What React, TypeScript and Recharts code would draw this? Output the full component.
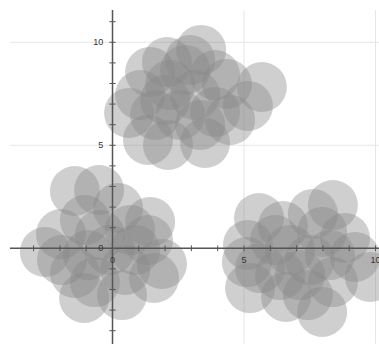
import { ScatterChart, Scatter, XAxis, YAxis, ReferenceLine } from 'recharts';

// three blobs of points
const topX = [3.37, 2.07, 1.43, 2.76, 0.63, 1.35, 2.11, 3.52, 4.35, 5.68, 5.15, 3.9, 3.14, 2.0, 3.9, 2.57, 1.62, 4.47, 3.33, 2.19, 2.95, 1.05];
const topY = [9.63, 9.04, 8.56, 8.66, 6.57, 5.26, 5.02, 5.11, 7.98, 7.83, 6.91, 6.62, 7.44, 7.2, 8.41, 6.47, 6.47, 6.23, 5.99, 7.93, 9.14, 7.44];

const leftX = [-1.43, -0.51, 0.21, 1.43, -1.96, -2.57, 1.35, -1.05, -1.92, -1.43, -1.08, 0.36, 1.58, 1.88, -0.67, -0.1, 0.86, -0.48, 0.48, 0.67, -0.93];
const leftY = [2.78, 2.83, 1.96, 1.28, 0.69, -0.18, 0.4, 1.37, -0.57, -1.2, -2.41, -2.27, -1.44, -0.76, -1.64, -0.08, -0.08, 0.65, -1.05, 0.89, -0.33];

const rightX = [8.38, 7.62, 5.57, 6.48, 5.15, 7.97, 9.22, 8.84, 5.11, 5.23, 6.6, 7.97, 9.79, 7.43, 8.38, 5.61, 6.75, 7.51, 6.18, 7.13, 8.27, 6.37];
const rightY = [2.1, 1.67, 1.47, 1.08, 0.16, 0.79, -0.42, 0.5, -0.67, -1.93, -2.36, -3.09, -1.39, -2.27, -1.64, -0.96, -0.08, -0.57, 0.4, -1.3, -0.33, -1.3];

const xTicks = [-3, -2, -1, 1, 2, 3, 4, 5, 6, 7, 8, 9, 10];
const yTicks = [-4, -3, -2, -1, 1, 2, 3, 4, 5, 6, 7, 8, 9, 10, 11];
const xLabels = [0, 5, 10];
const yLabels = [0, 5, 10];
const gridX = [5, 10];
const gridY = [5, 10];

const points = [
  ...topX.map((x, i) => ({ x, y: topY[i] })),
  ...leftX.map((x, i) => ({ x, y: leftY[i] })),
  ...rightX.map((x, i) => ({ x, y: rightY[i] })),
];

const X_MIN = -3.9;
const X_MAX = 10.13;
const Y_MIN = -4.64;
const Y_MAX = 11.57;

const labelStyle = { fontFamily: 'Liberation Sans, Arial, sans-serif', fontSize: 9, fill: '#333' };

const Bubble = (props: any) => (
  <circle cx={props.cx} cy={props.cy} r={25} fill="#888" fillOpacity={0.4} />
);

export default function App() {
  return (
    <div style={{ position: 'absolute', left: 0, top: 0 }}>
      <ScatterChart width={379} height={344} margin={{ top: 0, right: 0, bottom: 0, left: 0 }}>
        <XAxis type="number" dataKey="x" hide domain={[-4.278, 10.133]} allowDataOverflow scale="linear" />
        <YAxis type="number" dataKey="y" hide domain={[-4.646, 12.053]} allowDataOverflow scale="linear" />

        {gridY.map((v) => (
          <ReferenceLine key={'gy' + v} segment={[{ x: X_MIN, y: v }, { x: X_MAX, y: v }]} stroke="#e6e6e6" ifOverflow="visible" zIndex={-100} />
        ))}
        {gridX.map((v) => (
          <ReferenceLine key={'gx' + v} segment={[{ x: v, y: Y_MIN }, { x: v, y: Y_MAX }]} stroke="#e6e6e6" ifOverflow="visible" zIndex={-100} />
        ))}

        <Scatter data={points} shape={Bubble} isAnimationActive={false} />

        <ReferenceLine segment={[{ x: X_MIN, y: 0 }, { x: X_MAX, y: 0 }]} stroke="#555" strokeWidth={1.5} ifOverflow="visible" zIndex={700} />
        <ReferenceLine segment={[{ x: 0, y: Y_MIN }, { x: 0, y: Y_MAX }]} stroke="#555" strokeWidth={1.5} ifOverflow="visible" zIndex={700} />

        {xTicks.map((v) => (
          <ReferenceLine key={'tx' + v} segment={[{ x: v, y: -0.14 }, { x: v, y: 0.14 }]} stroke="#555" ifOverflow="visible" zIndex={700} />
        ))}
        {yTicks.map((v) => (
          <ReferenceLine key={'ty' + v} segment={[{ x: -0.12, y: v }, { x: 0.12, y: v }]} stroke="#555" ifOverflow="visible" zIndex={700} />
        ))}

        {xLabels.map((v) => (
          <ReferenceLine
            key={'lx' + v}
            segment={[{ x: v, y: -0.14 }, { x: v, y: 0.14 }]}
            stroke="none"
            ifOverflow="visible"
            zIndex={700}
            label={{ value: String(v), position: 'bottom', offset: 5, style: labelStyle }}
          />
        ))}
        {yLabels.map((v) => (
          <ReferenceLine
            key={'ly' + v}
            segment={[{ x: -0.12, y: v }, { x: 0.12, y: v }]}
            stroke="none"
            ifOverflow="visible"
            zIndex={700}
            label={{ value: String(v), position: 'left', offset: 6, style: labelStyle }}
          />
        ))}
      </ScatterChart>
    </div>
  );
}
